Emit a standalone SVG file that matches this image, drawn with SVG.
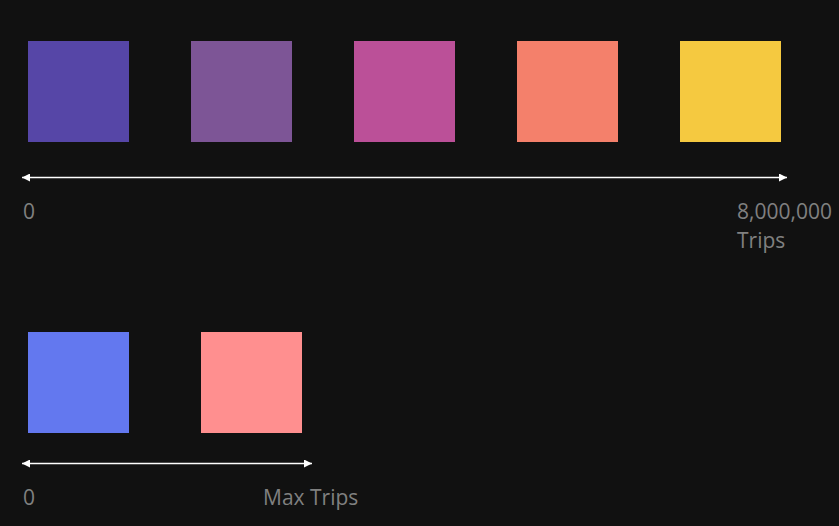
<svg xmlns="http://www.w3.org/2000/svg" width="839" height="526" viewBox="0 0 839 526">
<defs>
<marker id="ah" viewBox="0 0 10 10" refX="10" refY="5" markerWidth="8" markerHeight="8" markerUnits="userSpaceOnUse" orient="auto-start-reverse">
<path d="M0,0 L10,5 L0,10 z" fill="#ffffff"/>
</marker>
<style>
.sq{stroke:none}
.lbl{font-family:"Open Sans","Noto Sans",sans-serif;font-size:21px;fill:#808080}
.ax{stroke:#ffffff;stroke-width:1.5;fill:none}
</style>
</defs>
<rect width="839" height="526" fill="#111111"/>
<g id="sq1"><rect class="sq" x="28" y="41" width="101" height="101" fill="#5646A7"/></g>
<g id="sq2"><rect class="sq" x="191" y="41" width="101" height="101" fill="#7D5596"/></g>
<g id="sq3"><rect class="sq" x="354" y="41" width="101" height="101" fill="#BB5098"/></g>
<g id="sq4"><rect class="sq" x="517" y="41" width="101" height="101" fill="#F4806B"/></g>
<g id="sq5"><rect class="sq" x="680" y="41" width="101" height="101" fill="#F5C940"/></g>
<g id="sq6"><rect class="sq" x="28" y="332" width="101" height="101" fill="#6378EF"/></g>
<g id="sq7"><rect class="sq" x="201" y="332" width="101" height="101" fill="#FF8F8F"/></g>
<g id="connectors">
<line class="ax" x1="22" y1="177.5" x2="787" y2="177.5" marker-start="url(#ah)" marker-end="url(#ah)"/>
<line class="ax" x1="22" y1="463.5" x2="312" y2="463.5" marker-start="url(#ah)" marker-end="url(#ah)"/>
</g>
<g id="labels">
<text class="lbl" x="23" y="219">0</text>
<text class="lbl" x="737" y="219">8,000,000</text>
<text class="lbl" x="737" y="248">Trips</text>
<text class="lbl" x="23" y="505">0</text>
<text class="lbl" x="263" y="505">Max Trips</text>
</g>
</svg>
